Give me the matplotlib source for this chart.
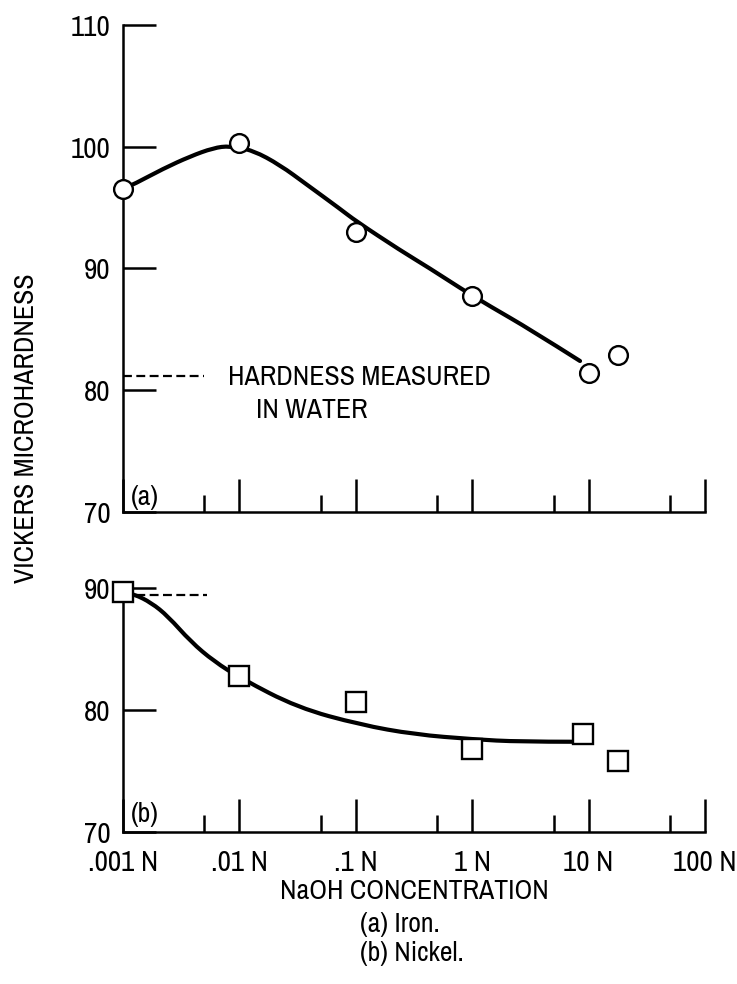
import matplotlib
matplotlib.use('Agg')
import matplotlib.pyplot as plt
from matplotlib import font_manager as fm
from matplotlib.path import Path
from matplotlib.patches import PathPatch

# ---- data ----
conc_ticks = [0.001, 0.01, 0.1, 1, 10, 100]
conc_labels = ['.001 N', '.01 N', '.1 N', '1 N', '10 N', '100 N']
conc_minor = [0.005, 0.05, 0.5, 5, 50]

iron_x = [0.001, 0.01, 0.1, 1, 10, 18]
iron_y = [96.5, 100.3, 93.0, 87.7, 81.4, 82.9]
iron_curve_x = [0.00115, 0.00123, 0.00222, 0.00376, 0.00597, 0.0083, 0.0131, 0.0223,
                0.0378, 0.0731, 0.1, 0.24, 0.434, 0.785, 1.42, 3.14, 8.44]
iron_curve_y = [96.8, 96.9, 98.2, 99.2, 99.9, 100.07, 99.7, 98.5,
                96.9, 94.9, 93.9, 91.5, 90.0, 88.4, 86.9, 85.0, 82.4]
iron_water = 81.2

nickel_x = [0.001, 0.01, 0.1, 1, 9, 18]
nickel_y = [89.7, 82.8, 80.7, 76.8, 78.0, 75.8]
nickel_curve_x = [0.0011, 0.00125, 0.00175, 0.00243, 0.00383, 0.00604, 0.0103, 0.0316,
                  0.109, 0.32, 1.02, 2.54, 7.45]
nickel_curve_y = [89.6, 89.5, 88.8, 87.7, 85.6, 84.0, 82.6, 80.2,
                  78.8, 78.0, 77.6, 77.4, 77.4]
nickel_water = 89.45

iron_yticks = [70, 80, 90, 100, 110]
nickel_yticks = [70, 80, 90]

# ---- font: prefer a narrow / condensed regular face ----
def pick_narrow():
    best = None
    for f in fm.fontManager.ttflist:
        fn = f.fname.lower()
        nm = f.name.lower()
        if f.style != 'normal':
            continue
        if any(k in fn for k in ('bold', 'italic', 'oblique', 'light', 'thin', 'black', 'medium', 'semi', 'extra')):
            continue
        if 'narrow' in fn or 'narrow' in nm:
            score = 0
        elif 'condensed' in fn or 'condensed' in nm or str(f.stretch) == 'condensed':
            score = 1
        else:
            continue
        if best is None or score < best[0]:
            best = (score, f.fname)
    return best[1] if best else None

narrow = pick_narrow()
if narrow:
    def FP(size):
        return fm.FontProperties(fname=narrow, size=size)
    SCALE = 1.0
else:
    def FP(size):
        return fm.FontProperties(family='DejaVu Sans', size=size)
    SCALE = 0.86

FS_TICK = 21 * SCALE
FS_TEXT = 20 * SCALE
LW = 1.8

fig = plt.figure(figsize=(7.37, 9.84), dpi=100)
ax1 = fig.add_axes([0.1669, 0.4797, 0.7897, 0.4949])
ax2 = fig.add_axes([0.1669, 0.1545, 0.7897, 0.2540])

for ax, yt, ylim in ((ax1, iron_yticks, (70, 110)), (ax2, nickel_yticks, (70, 90.5))):
    ax.set_xscale('log')
    ax.set_xlim(0.001, 100)
    ax.set_ylim(*ylim)
    for s in ('top', 'right'):
        ax.spines[s].set_visible(False)
    for s in ('left', 'bottom'):
        ax.spines[s].set_linewidth(LW)
    ax.set_xticks(conc_ticks)
    ax.set_xticks(conc_minor, minor=True)
    ax.set_xticklabels(conc_labels)
    ax.set_xticklabels([], minor=True)
    ax.set_yticks(yt)
    ax.set_yticklabels([str(v) for v in yt])
    for lab in ax.get_xticklabels():
        lab.set_fontproperties(FP(FS_TICK))
    for lab in ax.get_yticklabels():
        lab.set_fontproperties(FP(FS_TICK))
    ax.tick_params(axis='x', which='major', direction='in', length=24, width=LW, pad=12)
    ax.tick_params(axis='x', which='minor', direction='in', length=12, width=LW)
    ax.tick_params(axis='y', which='major', direction='in', length=24, width=LW, pad=9)
    ax.tick_params(axis='y', which='minor', length=0)

ax1.tick_params(axis='x', which='both', labelbottom=False)


def smooth_path(xs, ys):
    """Quadratic Bezier path through the read-off curve points (log-x aware)."""
    verts = [(xs[0], ys[0])]
    codes = [Path.MOVETO]
    n = len(xs)
    for i in range(1, n - 1):
        mx = (xs[i] * xs[i + 1]) ** 0.5
        my = (ys[i] + ys[i + 1]) / 2
        if i == n - 2:
            mx, my = xs[-1], ys[-1]
        verts += [(xs[i], ys[i]), (mx, my)]
        codes += [Path.CURVE3, Path.CURVE3]
    return Path(verts, codes)


# iron
ax1.add_patch(PathPatch(smooth_path(iron_curve_x, iron_curve_y), fill=False,
                        edgecolor='black', lw=3, capstyle='round', zorder=2))
ax1.plot(iron_x, iron_y, linestyle='none', marker='o', ms=13.5, mfc='white',
         mec='black', mew=1.7, clip_on=False, zorder=3)
ax1.hlines(iron_water, 0.001, 0.005, colors='black', linestyles=(0, (4, 2)), lw=1.6)
ax1.text(0.180, 0.277, 'HARDNESS MEASURED', transform=ax1.transAxes,
         fontproperties=FP(FS_TEXT), va='center', ha='left')
ax1.text(0.229, 0.209, 'IN WATER', transform=ax1.transAxes,
         fontproperties=FP(FS_TEXT), va='center', ha='left')
ax1.text(0.014, 0.029, '(a)', transform=ax1.transAxes, fontproperties=FP(FS_TEXT),
         va='center', ha='left')

# nickel
ax2.add_patch(PathPatch(smooth_path(nickel_curve_x, nickel_curve_y), fill=False,
                        edgecolor='black', lw=3, capstyle='round', zorder=2))
ax2.plot(nickel_x, nickel_y, linestyle='none', marker='s', ms=14, mfc='white',
         mec='black', mew=1.7, clip_on=False, zorder=3)
ax2.hlines(nickel_water, 0.001, 0.0053, colors='black', linestyles=(0, (4, 2)), lw=1.6)
ax2.text(0.014, 0.068, '(b)', transform=ax2.transAxes, fontproperties=FP(FS_TEXT),
         va='center', ha='left')

fig.text(0.0366, 0.565, 'VICKERS MICROHARDNESS', rotation=90, fontproperties=FP(FS_TEXT),
         va='center', ha='center')
fig.text(0.5617, 0.0935, 'NaOH CONCENTRATION', fontproperties=FP(FS_TEXT), va='center', ha='center')
fig.text(0.4885, 0.060, '(a) Iron.', fontproperties=FP(FS_TEXT), va='center', ha='left')
fig.text(0.4885, 0.0315, '(b) Nickel.', fontproperties=FP(FS_TEXT), va='center', ha='left')

fig.savefig('out.png', dpi=100)
